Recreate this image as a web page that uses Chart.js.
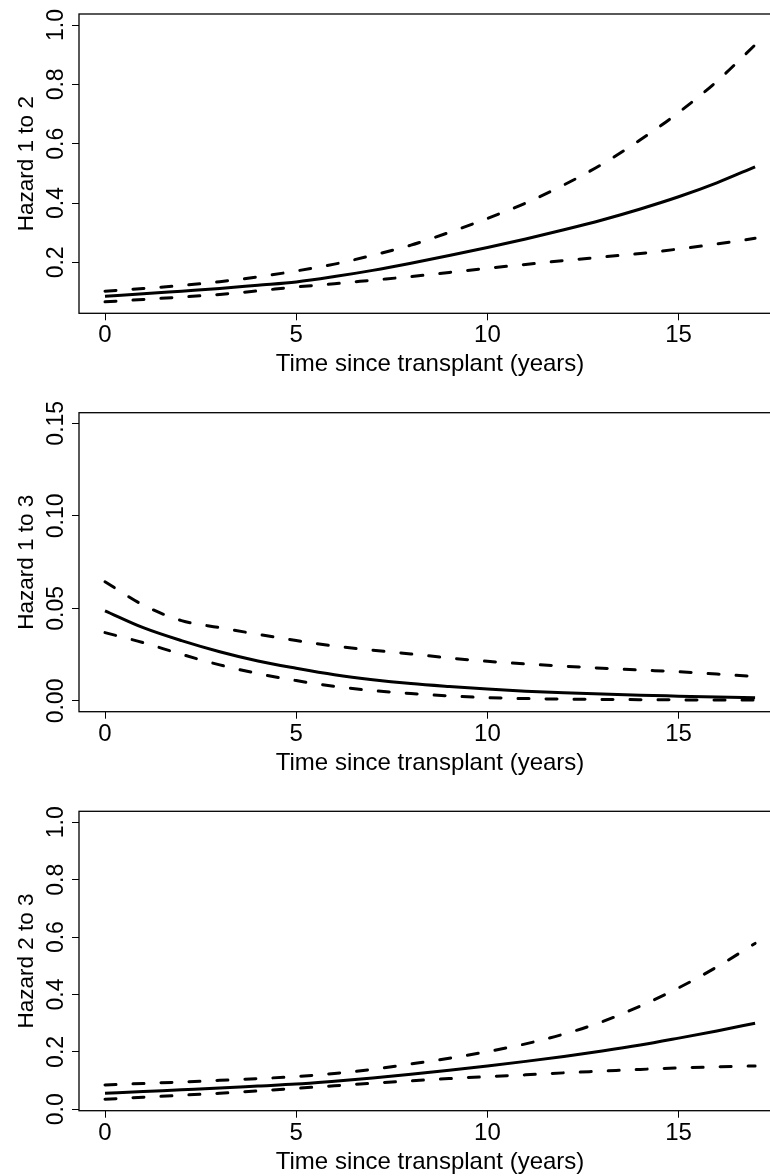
<!DOCTYPE html>
<html>
<head>
<meta charset="utf-8">
<script src="https://cdn.jsdelivr.net/npm/chart.js@4.4.1/dist/chart.umd.min.js"></script>
<style>
  html, body { margin: 0; padding: 0; background: #fff; overflow: hidden; }
  .panel { position: absolute; left: 0; width: 770px; height: 392px; }
</style>
</head>
<body>
<div class="panel" style="top:0px"><canvas id="g12" width="770" height="392"></canvas></div>
<div class="panel" style="top:392px"><canvas id="g13" width="770" height="392"></canvas></div>
<div class="panel" style="top:784px"><canvas id="g23" width="770" height="392"></canvas></div>
<script>
// ---------------------------------------------------------------
// Datos (riesgo por tiempo desde el trasplante)
// ---------------------------------------------------------------
const tiempo = [0, 1, 2, 3, 4, 5, 6, 7, 8, 9, 10, 11, 12, 13, 14, 15, 16, 17];

// Hazard 1 to 2
const h12    = [0.086, 0.094, 0.103, 0.112, 0.123, 0.134, 0.152, 0.173, 0.197, 0.223, 0.250, 0.279, 0.310, 0.343, 0.380, 0.421, 0.468, 0.522];
const h12Sup = [0.103, 0.112, 0.122, 0.135, 0.151, 0.171, 0.194, 0.224, 0.258, 0.301, 0.348, 0.400, 0.461, 0.531, 0.613, 0.705, 0.810, 0.933];
const h12Inf = [0.067, 0.075, 0.083, 0.092, 0.104, 0.117, 0.128, 0.140, 0.152, 0.166, 0.180, 0.193, 0.206, 0.218, 0.230, 0.245, 0.262, 0.281];

// Hazard 1 to 3
const h13    = [0.0487, 0.0396, 0.0326, 0.0266, 0.0216, 0.0177, 0.0142, 0.0115, 0.0094, 0.0078, 0.0064, 0.0053, 0.0044, 0.0037, 0.0031, 0.0026, 0.0021, 0.0017];
const h13Sup = [0.0644, 0.0518, 0.0434, 0.0396, 0.0360, 0.0326, 0.0297, 0.0274, 0.0254, 0.0232, 0.0214, 0.0200, 0.0188, 0.0177, 0.0167, 0.0158, 0.0145, 0.0132];
const h13Inf = [0.0369, 0.0315, 0.0252, 0.0195, 0.0148, 0.0110, 0.0079, 0.0056, 0.0040, 0.0027, 0.0018, 0.0013, 0.0010, 0.0008, 0.0007, 0.0006, 0.0005, 0.0005];

// Hazard 2 to 3
const h23    = [0.056, 0.062, 0.068, 0.074, 0.081, 0.088, 0.098, 0.109, 0.122, 0.136, 0.151, 0.167, 0.184, 0.203, 0.224, 0.248, 0.273, 0.300];
const h23Sup = [0.085, 0.090, 0.095, 0.101, 0.107, 0.114, 0.125, 0.139, 0.158, 0.178, 0.201, 0.228, 0.262, 0.305, 0.360, 0.423, 0.496, 0.578];
const h23Inf = [0.035, 0.042, 0.049, 0.056, 0.064, 0.073, 0.082, 0.091, 0.099, 0.107, 0.114, 0.120, 0.127, 0.133, 0.139, 0.144, 0.148, 0.151];

// Marcas de los ejes
const xTicks = [0, 5, 10, 15];
const yTicksA = [0.2, 0.4, 0.6, 0.8, 1.0];
const yLabelsA = ['0.2', '0.4', '0.6', '0.8', '1.0'];
const yTicksB = [0, 0.05, 0.10, 0.15];
const yLabelsB = ['0.00', '0.05', '0.10', '0.15'];
const yTicksC = [0, 0.2, 0.4, 0.6, 0.8, 1.0];
const yLabelsC = ['0.0', '0.2', '0.4', '0.6', '0.8', '1.0'];

const tituloX = 'Time since transplant (years)';
const FUENTE = '"Liberation Sans", Arial, Helvetica, sans-serif';

// ---------------------------------------------------------------
// Plugin: caja, etiquetas rotadas y titulos al estilo de R
// ---------------------------------------------------------------
const decoracionR = {
    id: 'decoracionR',
    afterDraw(chart) {
        const o = chart.options.plugins.decoracionR;
        const { ctx, chartArea: a, scales } = chart;
        ctx.save();
        ctx.strokeStyle = '#000';
        ctx.lineWidth = 1.3;
        ctx.strokeRect(a.left, a.top, a.right - a.left + 30, a.bottom - a.top);

        ctx.fillStyle = '#000';
        ctx.textAlign = 'center';
        ctx.textBaseline = 'alphabetic';

        // etiquetas del eje y (giradas)
        ctx.font = '23px ' + FUENTE;
        o.yTicks.forEach((v, i) => {
            const y = scales.y.getPixelForValue(v);
            ctx.save();
            ctx.translate(63, y);
            ctx.rotate(-Math.PI / 2);
            ctx.fillText(o.yLabels[i], 0, 0);
            ctx.restore();
        });

        // titulo eje y
        ctx.font = '22.5px ' + FUENTE;
        ctx.save();
        ctx.translate(33, (a.top + a.bottom) / 2);
        ctx.rotate(-Math.PI / 2);
        ctx.fillText(o.tituloY, 0, 0);
        ctx.restore();

        // etiquetas eje x
        ctx.font = '24px ' + FUENTE;
        xTicks.forEach(v => {
            ctx.fillText(String(v), scales.x.getPixelForValue(v), a.bottom + 29);
        });
        ctx.fillText(tituloX, scales.x.getPixelForValue(8.5), a.bottom + 58);
        ctx.restore();
    }
};

function serie(valores, discontinua) {
    return {
        data: tiempo.map((t, i) => ({ x: t, y: valores[i] })),
        borderColor: '#000',
        borderWidth: 3,
        borderDash: discontinua ? [11, 17] : [],
        borderCapStyle: discontinua ? 'round' : 'butt',
        pointRadius: 0,
        fill: false,
        cubicInterpolationMode: 'monotone'
    };
}

function crearPanel(id, med, sup, inf, yMin, yMax, yTicks, yLabels, tituloY, padTop, altoX) {
    const ctx = document.getElementById(id).getContext('2d');
    return new Chart(ctx, {
        type: 'line',
        data: { datasets: [serie(sup, true), serie(inf, true), serie(med, false)] },
        plugins: [decoracionR],
        options: {
            responsive: false,
            animation: false,
            devicePixelRatio: 1,
            layout: { padding: { top: padTop, right: 0, bottom: 0, left: 0 } },
            plugins: {
                legend: { display: false },
                tooltip: { enabled: false },
                decoracionR: { yTicks: yTicks, yLabels: yLabels, tituloY: tituloY }
            },
            scales: {
                x: {
                    type: 'linear',
                    min: -0.68,
                    max: 17.39,
                    afterBuildTicks: s => { s.ticks = xTicks.map(v => ({ value: v })); },
                    afterFit: s => { s.height = altoX; },
                    ticks: { display: false },
                    border: { display: false },
                    grid: { drawOnChartArea: false, drawTicks: true, tickLength: 7, color: '#000', lineWidth: 1 }
                },
                y: {
                    type: 'linear',
                    min: yMin,
                    max: yMax,
                    afterBuildTicks: s => { s.ticks = yTicks.map(v => ({ value: v })); },
                    afterFit: s => { s.width = 79; },
                    ticks: { display: false },
                    border: { display: false },
                    grid: { drawOnChartArea: false, drawTicks: true, tickLength: 7, color: '#000', lineWidth: 1 }
                }
            }
        }
    });
}

crearPanel('g12', h12, h12Sup, h12Inf, 0.0283, 1.0371, yTicksA, yLabelsA, 'Hazard 1 to 2', 14, 392 - 313.3);
crearPanel('g13', h13, h13Sup, h13Inf, -0.0058, 0.1557, yTicksB, yLabelsB, 'Hazard 1 to 3', 20.7, 392 - 319.7);
crearPanel('g23', h23, h23Sup, h23Inf, -0.0049, 1.0383, yTicksC, yLabelsC, 'Hazard 2 to 3', 27.3, 392 - 326.7);
</script>
</body>
</html>
